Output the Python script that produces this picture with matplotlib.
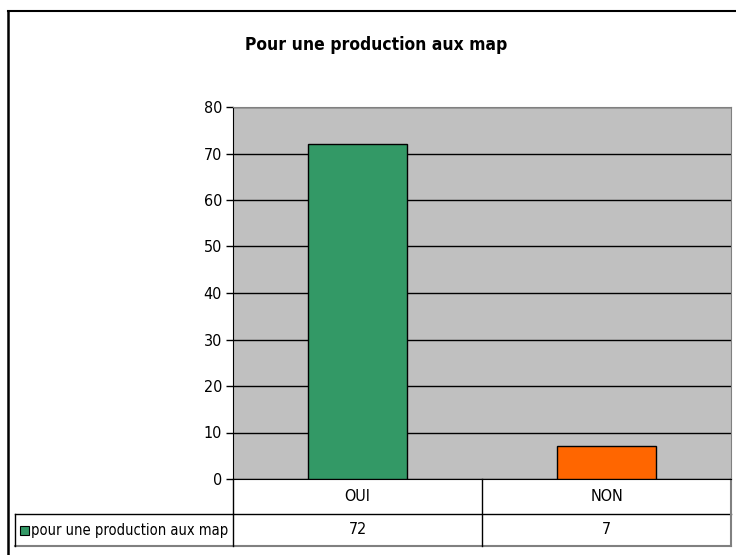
import matplotlib
matplotlib.use("Agg")
import matplotlib.pyplot as plt
import matplotlib.transforms as mtransforms
from matplotlib.lines import Line2D
from matplotlib.patches import Rectangle

# data
categories = ["OUI", "NON"]
values = [72, 7]
bar_colors = ["#339966", "#FF6600"]
series_name = "pour une production aux map"
title = "Pour une production aux map"
yticks = [0, 10, 20, 30, 40, 50, 60, 70, 80]

plt.rcParams['font.family'] = ['DejaVu Sans']
plt.rcParams['font.stretch'] = 'condensed'

W, H = 736, 555
fig = plt.figure(figsize=(W / 100, H / 100), dpi=100)

# plot area in pixels
px_left, px_right, px_top, px_bottom = 233, 731, 107, 479
ax = fig.add_axes([px_left / W, 1 - px_bottom / H,
                   (px_right - px_left) / W, (px_bottom - px_top) / H])
ax.set_facecolor("#C0C0C0")

x = list(range(len(categories)))
ax.bar(x, values, width=0.4, color=bar_colors, edgecolor="black", linewidth=1, zorder=3)
ax.set_xlim(-0.5, len(categories) - 0.5)
ax.set_ylim(0, 80)
ax.set_yticks(yticks)
ax.set_yticklabels([str(t) for t in yticks], fontsize=11.5)
ax.yaxis.grid(True, color="black", linewidth=1, zorder=1)
ax.tick_params(axis='y', length=5, width=1, pad=3)
ax.set_xticks([])
for side in ["top", "right"]:
    ax.spines[side].set_color("#808080")
ax.spines["left"].set_color("black")
ax.spines["bottom"].set_color("black")

# title
fig.text(376 / W, 1 - 45 / H, title, ha="center", va="center",
         fontsize=12.5, fontweight="bold")

# data table under the axis
hdr_bot = (px_bottom - 514) / (px_bottom - px_top)
row_bot = (px_bottom - 546) / (px_bottom - px_top)
leg_left = (15 - px_left) / (px_right - px_left)
bt = mtransforms.blended_transform_factory(ax.transData, ax.transAxes)
at = ax.transAxes

def line(xs, ys, tr, color="black", lw=1):
    ax.add_line(Line2D(xs, ys, transform=tr, color=color, lw=lw, clip_on=False))

# horizontal lines
line([0, 1], [hdr_bot, hdr_bot], at)
line([leg_left, 0], [hdr_bot, hdr_bot], at)
line([leg_left, 1], [row_bot, row_bot], at, color="#808080", lw=1.5)
# vertical lines
line([0, 0], [0, row_bot], at)
line([leg_left, leg_left], [hdr_bot, row_bot], at)
line([1, 1], [0, row_bot], at, color="#808080", lw=1.5)
for i in range(1, len(categories)):
    line([i - 0.5, i - 0.5], [0, row_bot], bt)

for i, (cat, val) in enumerate(zip(categories, values)):
    ax.text(i, hdr_bot / 2, cat, transform=bt, ha="center", va="center",
            fontsize=11.5, clip_on=False)
    ax.text(i, (hdr_bot + row_bot) / 2, str(val), transform=bt, ha="center",
            va="center", fontsize=11.5, clip_on=False)

# legend key + series name
kx = leg_left + 5 / (px_right - px_left)
ky = (hdr_bot + row_bot) / 2
ksz_x = 9 / (px_right - px_left)
ksz_y = 9 / (px_bottom - px_top)
ax.add_patch(Rectangle((kx, ky - ksz_y / 2), ksz_x, ksz_y, transform=at,
                       facecolor=bar_colors[0], edgecolor="black", lw=0.8,
                       clip_on=False))
ax.text(kx + ksz_x + 2 / (px_right - px_left), ky, series_name, transform=at,
        ha="left", va="center", fontsize=10.5, clip_on=False)

# outer chart border (cut off at right and bottom)
fig.add_artist(Line2D([8 / W, 8 / W], [0, 1 - 11 / H], transform=fig.transFigure,
                      color="black", lw=1.8))
fig.add_artist(Line2D([8 / W, 1], [1 - 11 / H, 1 - 11 / H], transform=fig.transFigure,
                      color="black", lw=1.5))

fig.savefig("out.png", dpi=100)
